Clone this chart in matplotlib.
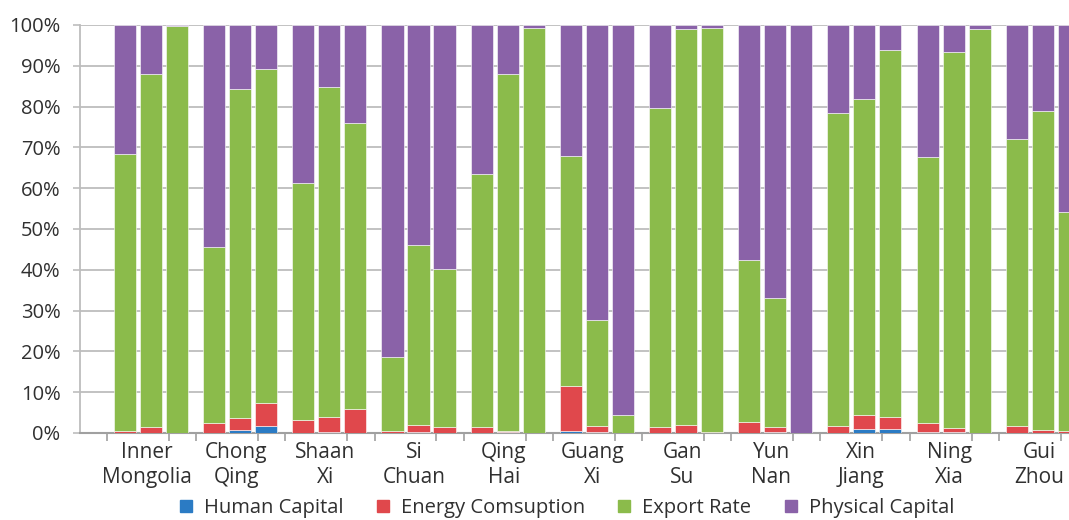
import matplotlib
matplotlib.use("Agg")
import matplotlib.pyplot as plt
from matplotlib.lines import Line2D
import numpy as np

plt.rcParams['font.family'] = ['Open Sans', 'DejaVu Sans']

provinces = ["Inner\nMongolia", "Chong\nQing", "Shaan\nXi", "Si\nChuan", "Qing\nHai",
             "Guang\nXi", "Gan\nSu", "Yun\nNan", "Xin\nJiang", "Ning\nXia", "Gui\nZhou"]
series_names = ["Human Capital", "Energy Comsuption", "Export Rate", "Physical Capital"]

# three bars per province (percent)
human_capital = [0.0, 0.0, 0.0,
                 0.0, 0.7, 1.7,
                 0.0, 0.3, 0.0,
                 0.0, 0.3, 0.0,
                 0.0, 0.3, 0.0,
                 0.6, 0.3, 0.0,
                 0.0, 0.0, 0.0,
                 0.0, 0.3, 0.0,
                 0.0, 1.0, 1.0,
                 0.3, 0.3, 0.0,
                 0.0, 0.0, 0.0]
energy = [0.6, 1.5, 0.0,
          2.4, 2.9, 5.6,
          3.2, 3.7, 6.0,
          0.5, 1.7, 1.5,
          1.5, 0.3, 0.0,
          10.9, 1.3, 0.0,
          1.5, 2.0, 0.3,
          2.8, 1.2, 0.0,
          1.7, 3.4, 3.0,
          2.1, 1.0, 0.0,
          1.7, 0.8, 0.5]
export_rate = [67.9, 86.4, 99.8,
               43.3, 80.7, 81.8,
               58.1, 80.7, 70.1,
               18.2, 44.2, 38.6,
               61.9, 87.3, 99.3,
               56.5, 26.1, 4.4,
               78.1, 96.9, 98.9,
               39.5, 31.7, 0.0,
               76.7, 77.5, 89.8,
               65.3, 92.1, 98.9,
               70.3, 78.0, 53.7]
physical_capital = [100 - h - e - x for h, e, x in zip(human_capital, energy, export_rate)]

colors = ["#2B7BC4", "#E0484C", "#8BBB4B", "#8A62A8"]

fig = plt.figure(figsize=(10.69, 5.20), dpi=100)
ax = fig.add_axes([80 / 1069, 87 / 520, (1092 - 80) / 1069, 408 / 520])

group_pitch = 3.43
bar_w = 0.85
n_groups = len(provinces)
x = np.array([g * group_pitch + k for g in range(n_groups) for k in range(3)])

bottom = np.zeros(len(x))
for vals, c in zip([human_capital, energy, export_rate, physical_capital], colors):
    v = np.array(vals)
    ax.bar(x, v, bar_w, bottom=bottom, color=c, edgecolor='white', linewidth=0.4, zorder=3)
    bottom += v

ax.set_ylim(0, 100)
ax.set_xlim(-1.73, (1092 - 125) / 26)
ax.set_yticks(np.arange(0, 101, 10))
ax.set_yticklabels([f"{v}%" for v in range(0, 101, 10)])
ax.yaxis.grid(True, color='#BDBDBD', linewidth=1.3, zorder=0)
ax.set_axisbelow(True)

for s in ['top', 'right']:
    ax.spines[s].set_visible(False)
ax.spines['left'].set_color('#BDBDBD')
ax.spines['left'].set_linewidth(1.3)
ax.spines['bottom'].set_color('#A0A0A0')
ax.spines['bottom'].set_linewidth(1.5)

ax.tick_params(axis='y', length=5, color='#BDBDBD', width=1.2, labelsize=14.5,
               labelcolor='#303030', pad=9)

boundaries = np.arange(n_groups + 1) * group_pitch - 0.69
ax.set_xticks(boundaries)
ax.set_xticklabels([])
ax.set_xticks(boundaries[:-1] + 2.38, minor=True)
ax.tick_params(axis='x', which='both', length=6, color='#A0A0A0', width=1.2)

for g, name in enumerate(provinces):
    ax.text(g * group_pitch + 0.85, -2.3, name, ha='center', va='top',
            fontsize=15, color='#303030', linespacing=1.2,
            transform=ax.transData, clip_on=False)

handles = [Line2D([0], [0], marker='s', color='none', markerfacecolor=c,
                  markeredgecolor=c, markersize=8) for c in colors]
fig.legend(handles, series_names, loc='center', bbox_to_anchor=(566 / 1069, 1 - 508 / 520),
           ncol=4, frameon=False, fontsize=14.5, handlelength=0.8, handletextpad=0.5,
           columnspacing=1.55, labelcolor='#303030')

fig.savefig("out.png", dpi=100)
